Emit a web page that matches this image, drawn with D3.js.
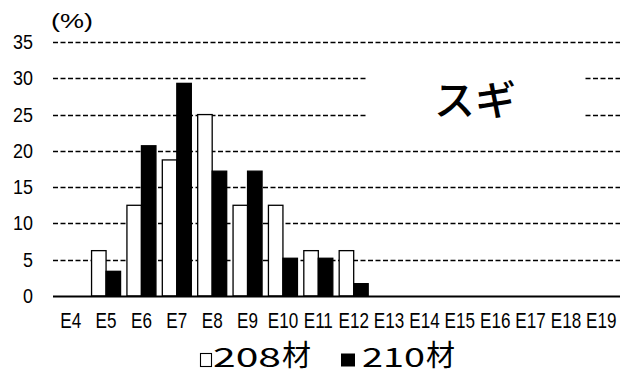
<!DOCTYPE html>
<html>
<head>
<meta charset="utf-8">
<script src="https://cdn.jsdelivr.net/npm/d3@7"></script>
<style>
  html, body { margin: 0; padding: 0; background: #fff; }
  svg { display: block; }
</style>
</head>
<body>
<svg id="chart" width="634" height="374"></svg>
<script>
// Grade distribution (%) of スギ lumber by E-grade, 208 vs 210 sizes
const grades = ["E4","E5","E6","E7","E8","E9","E10","E11","E12","E13","E14","E15","E16","E17","E18","E19"];
const series208 = [0, 6.25, 12.5, 18.75, 25, 12.5, 12.5, 6.25, 6.25, 0, 0, 0, 0, 0, 0, 0];
const series210 = [0, 3.4, 20.7, 29.3, 17.2, 17.2, 5.2, 5.2, 1.7, 0, 0, 0, 0, 0, 0, 0];
const yTicks = [0, 5, 10, 15, 20, 25, 30, 35];
const seriesCodes = ["208", "210"];
const seriesSuffix = "材";
const seriesNames = seriesCodes.map(c => c + seriesSuffix);
const speciesLabel = "スギ";
const unitLabel = "(%)";

const svg = d3.select("#chart");
const plotLeft = 53, plotRight = 619, plotTop = 42, plotBottom = 296;
const latin = "'Liberation Sans', Arial, sans-serif";
const cjk = "'Noto Sans CJK JP', sans-serif";

const x = d3.scaleBand().domain(grades).range([plotLeft, plotRight]).paddingInner(0.18).paddingOuter(0.09);
const xg = d3.scaleBand().domain(seriesNames).range([0, x.bandwidth()]);
const y = d3.scaleLinear().domain([0, 35]).range([plotBottom, plotTop]);

// dashed horizontal gridlines
svg.append("g").selectAll("line").data(yTicks.filter(d => d > 0)).join("line")
  .attr("x1", plotLeft).attr("x2", plotRight + 1)
  .attr("y1", d => Math.round(y(d)) + 0.5).attr("y2", d => Math.round(y(d)) + 0.5)
  .attr("stroke", "#000").attr("stroke-width", 1.5)
  .attr("stroke-dasharray", "5,2.5");

// y tick labels
svg.append("g").selectAll("text").data(yTicks).join("text")
  .attr("transform", d => `translate(33,${y(d) + 7}) scale(0.92,1)`)
  .attr("text-anchor", "end")
  .attr("font-family", latin)
  .attr("font-size", 19.5)
  .attr("fill", "#000")
  .text(d => d);

// unit label, widened like full-width glyphs
svg.append("text")
  .attr("x", 51).attr("y", 28)
  .attr("font-family", latin)
  .attr("font-size", 21)
  .attr("textLength", 42)
  .attr("lengthAdjust", "spacingAndGlyphs")
  .text(unitLabel);

// species label on a white box
svg.append("rect")
  .attr("x", 366).attr("y", 60).attr("width", 217).attr("height", 80)
  .attr("fill", "#fff");
svg.append("text")
  .attr("x", 475).attr("y", 115)
  .attr("text-anchor", "middle")
  .attr("font-family", cjk)
  .attr("font-weight", 500)
  .attr("font-size", 41)
  .text(speciesLabel);

// bars
const rows = grades.map((g, i) => ({ g, v: [series208[i], series210[i]] }));
const groups = svg.append("g").selectAll("g").data(rows).join("g")
  .attr("transform", d => `translate(${x(d.g)},0)`);
groups.selectAll("rect").data(d => d.v.map((v, k) => ({ k, v })).filter(e => e.v > 0)).join("rect")
  .attr("x", e => xg(seriesNames[e.k]))
  .attr("y", e => y(e.v))
  .attr("width", xg.bandwidth())
  .attr("height", e => y(0) - y(e.v))
  .attr("fill", e => e.k === 0 ? "#fff" : "#000")
  .attr("stroke", "#000")
  .attr("stroke-width", 1.3);

// x axis line
svg.append("line")
  .attr("x1", plotLeft).attr("x2", plotRight + 1)
  .attr("y1", plotBottom + 0.5).attr("y2", plotBottom + 0.5)
  .attr("stroke", "#000").attr("stroke-width", 2.2);

// x tick labels
svg.append("g").selectAll("text").data(grades).join("text")
  .attr("transform", d => `translate(${x(d) + x.bandwidth() / 2},328) scale(0.76,1)`)
  .attr("text-anchor", "middle")
  .attr("font-family", latin)
  .attr("font-size", 22.5)
  .attr("fill", "#000")
  .text(d => d);

// legend: marker, wide digits, then the 材 suffix
const legend = svg.append("g");
const legendItems = [
  { code: seriesCodes[0], fill: "#fff", bx: 200.5, tx: 213, w: 68 },
  { code: seriesCodes[1], fill: "#000", bx: 341, tx: 362, w: 63 }
];
legend.selectAll("rect").data(legendItems).join("rect")
  .attr("x", d => d.bx).attr("y", 353.5).attr("width", d => d.fill === "#fff" ? 11 : 14).attr("height", 13)
  .attr("fill", d => d.fill).attr("stroke", "#000").attr("stroke-width", d => d.fill === "#fff" ? 1.1 : 0);
legend.selectAll("text.code").data(legendItems).join("text")
  .attr("class", "code")
  .attr("x", d => d.tx).attr("y", 367)
  .attr("font-family", cjk)
  .attr("font-size", 26)
  .attr("textLength", d => d.w)
  .attr("lengthAdjust", "spacingAndGlyphs")
  .text(d => d.code);
legend.selectAll("text.suffix").data(legendItems).join("text")
  .attr("class", "suffix")
  .attr("x", d => d.tx + d.w + 1).attr("y", 366)
  .attr("font-family", cjk)
  .attr("font-size", 29)
  .text(seriesSuffix);
</script>
</body>
</html>
